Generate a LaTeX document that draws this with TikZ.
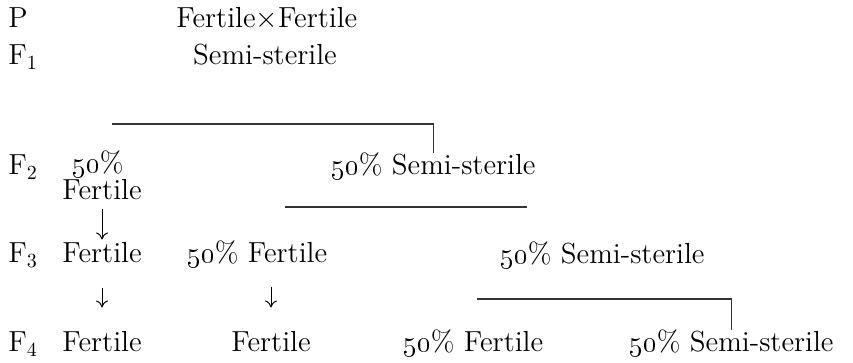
\documentclass[tikz,border=0pt]{standalone}
\usetikzlibrary{arrows.meta}
\newcommand\fifty{\oldstylenums{50}\%}
\begin{document}
\begin{tikzpicture}[x=0.5pt,y=-0.5pt,
  txt/.style={inner sep=0pt, anchor=base west, font=\fontsize{14.5}{17}\selectfont},
  lbl/.style={txt},
  arr/.style={line width=0.5pt, -{To[length=3.5pt,width=6pt]}},
  brk/.style={line width=0.6pt, black!80}]
\useasboundingbox (0,0) rectangle (853,363);
% generation labels
\node[lbl] (p)  at (8,28)  {P};
\node[lbl] (g1) at (8,65)  {F$_1$};
\node[lbl] (g2) at (8,175) {F$_2$};
\node[lbl] (g3) at (8,263) {F$_3$};
\node[lbl] (g4) at (8,352) {F$_4$};
% rows
\node[txt] (pc) at (176,28) {Fertile$\times$Fertile};
\node[txt,anchor=base] (f1) at (265,65) {Semi-sterile};
\node[txt] (f2p) at (72,173) {\fifty};
\node[txt] (f2a) at (62,200) {Fertile};
\node[txt] (f2b) at (331,175) {\fifty\ Semi-sterile};
\node[txt] (f3a) at (62,263) {Fertile};
\node[txt] (f3b) at (187,263) {\fifty\ Fertile};
\node[txt] (f3c) at (500,264) {\fifty\ Semi-sterile};
\node[txt] (f4a) at (62,352) {Fertile};
\node[txt] (f4b) at (231,352) {Fertile};
\node[txt] (f4c) at (403,352) {\fifty\ Fertile};
\node[txt] (f4d) at (629,352) {\fifty\ Semi-sterile};
% arrows
\draw[arr, shorten <=4pt, shorten >=1.5pt] (f2a.south -| f3a.north) -- (f3a.north);
\draw[arr, shorten <=12pt, shorten >=12pt] (f3a.south) -- (f4a.north);
\draw[arr, shorten <=9pt, shorten >=12pt] (f3b.south -| f4b.north) -- (f4b.north);
% brackets
\coordinate (l1) at (112,124);
\draw[brk] (l1) -| (f2b.north);
\coordinate (l2a) at (285,207);
\coordinate (l2b) at (527,207);
\draw[brk] (l2a) -- (l2b);
\coordinate (l3) at (477,299);
\draw[brk] (l3) -| (f4d.north);
\end{tikzpicture}
\end{document}
